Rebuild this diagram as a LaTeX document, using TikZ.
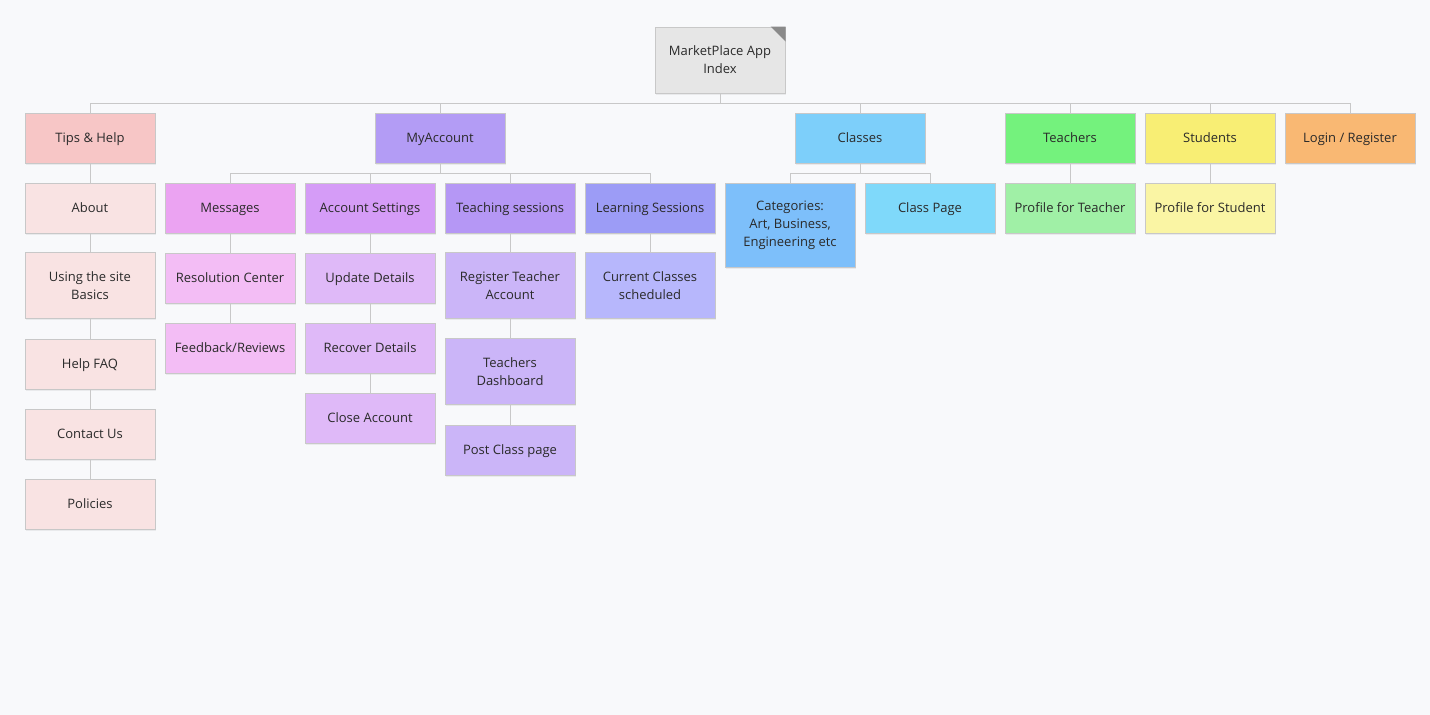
\documentclass[tikz,border=0pt]{standalone}
\usepackage{fontspec}
\setmainfont{Open Sans}
\usetikzlibrary{positioning,calc,shadows}
\definecolor{bg}{HTML}{F8F9FB}
\definecolor{edge}{HTML}{C8C8C8}
\definecolor{txt}{HTML}{2A2A2A}
\definecolor{rootc}{HTML}{E6E6E6}
\definecolor{foldc}{HTML}{8A8A8A}
\definecolor{tipsc}{HTML}{F7C6C6}
\definecolor{tipsl}{HTML}{F9E3E3}
\definecolor{accc}{HTML}{B39CF5}
\definecolor{msgc}{HTML}{EBA3F2}
\definecolor{msgl}{HTML}{F3BDF5}
\definecolor{setc}{HTML}{D59CF7}
\definecolor{setl}{HTML}{DFB9F8}
\definecolor{teac}{HTML}{B597F5}
\definecolor{teal}{HTML}{CBB5F8}
\definecolor{lrnc}{HTML}{9C9CF6}
\definecolor{lrnl}{HTML}{B7B7FC}
\definecolor{clsc}{HTML}{7DCFFA}
\definecolor{catc}{HTML}{7DBFFA}
\definecolor{cpgc}{HTML}{7FD9FA}
\definecolor{tchc}{HTML}{74F27D}
\definecolor{tchl}{HTML}{A0F0A6}
\definecolor{stuc}{HTML}{F8EE74}
\definecolor{stul}{HTML}{FAF5A4}
\definecolor{logc}{HTML}{F9B873}

\begin{document}
\begin{tikzpicture}[x=1pt,y=-1pt,
    card/.style={rectangle,draw=edge,line width=1pt,minimum width=130pt,minimum height=50pt,
      align=center,text=txt,font=\fontsize{13}{18}\selectfont,inner sep=2pt,
      drop shadow={shadow xshift=1pt,shadow yshift=-1.5pt,opacity=0.12}},
    one/.style={card,text height=12pt,text depth=2.7pt},
    tall/.style={card,minimum height=66pt},
    link/.style={draw=edge,line width=1pt}]

\useasboundingbox[fill=bg] (0,0) rectangle (1430,715);

% Racine
\node[tall,fill=rootc] (root) at (720,60) {MarketPlace App\\Index};
\fill[foldc] ($(root.north east)+(-15,0)$) -- (root.north east) -- ($(root.north east)+(0,15)$) -- cycle;

% Premier niveau
\node[one,fill=tipsc] (tips) at (90,138) {Tips \& Help};
\node[one,fill=accc] (account) at (440,138) {MyAccount};
\node[one,fill=clsc] (classes) at (860,138) {Classes};
\node[one,fill=tchc] (teachers) at (1070,138) {Teachers};
\node[one,fill=stuc] (students) at (1210,138) {Students};
\node[one,fill=logc] (login) at (1350,138) {Login / Register};

% Tips & Help
\node[one,fill=tipsl] (about) at (90,208) {About};
\node[tall,fill=tipsl] (basics) at (90,285.5) {Using the site\\Basics};
\node[one,fill=tipsl] (faq) at (90,364) {Help FAQ};
\node[one,fill=tipsl] (contact) at (90,434) {Contact Us};
\node[one,fill=tipsl] (policies) at (90,504) {Policies};

% MyAccount
\node[one,fill=msgc] (messages) at (230,208) {Messages};
\node[one,fill=msgl] (resolution) at (230,278) {Resolution Center};
\node[one,fill=msgl] (feedback) at (230,348) {Feedback/Reviews};

\node[one,fill=setc] (settings) at (370,208) {Account Settings};
\node[one,fill=setl] (update) at (370,278) {Update Details};
\node[one,fill=setl] (recover) at (370,348) {Recover Details};
\node[one,fill=setl] (close) at (370,418) {Close Account};

\node[one,fill=teac] (teaching) at (510,208) {Teaching sessions};
\node[tall,fill=teal] (register) at (510,285.5) {Register Teacher\\Account};
\node[tall,fill=teal] (dashboard) at (510,371.5) {Teachers\\Dashboard};
\node[one,fill=teal] (post) at (510,450) {Post Class page};

\node[one,fill=lrnc] (learning) at (650,208) {Learning Sessions};
\node[tall,fill=lrnl] (current) at (650,285.5) {Current Classes\\scheduled};

% Classes, Teachers, Students
\node[card,minimum height=84pt,fill=catc] (categories) at (790,225) {Categories:\\Art, Business,\\Engineering etc};
\node[one,fill=cpgc] (classpage) at (930,208) {Class Page};
\node[one,fill=tchl] (tprofile) at (1070,208) {Profile for Teacher};
\node[one,fill=stul] (sprofile) at (1210,208) {Profile for Student};

% Liens
\foreach \c in {tips,account,classes,teachers,students,login}
  \draw[link] (root.south) -- ++(0,10) -| (\c.north);
\foreach \c in {messages,settings,teaching,learning}
  \draw[link] (account.south) -- ++(0,10) -| (\c.north);
\foreach \c in {categories,classpage}
  \draw[link] (classes.south) -- ++(0,10) -| (\c.north);
\draw[link] (tips) -- (about) -- (basics) -- (faq) -- (contact) -- (policies);
\draw[link] (messages) -- (resolution) -- (feedback);
\draw[link] (settings) -- (update) -- (recover) -- (close);
\draw[link] (teaching) -- (register) -- (dashboard) -- (post);
\draw[link] (learning) -- (current);
\draw[link] (teachers) -- (tprofile);
\draw[link] (students) -- (sprofile);

\end{tikzpicture}
\end{document}
